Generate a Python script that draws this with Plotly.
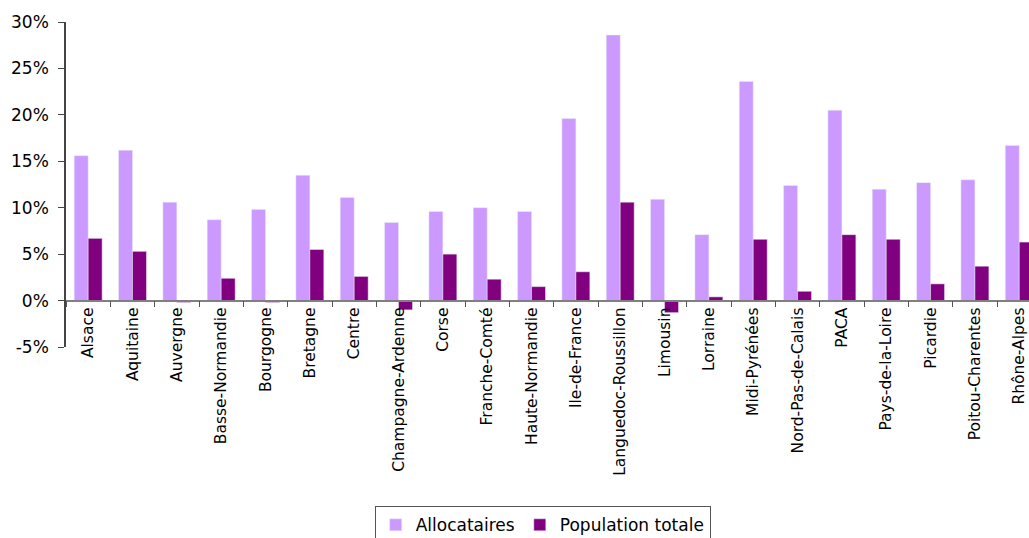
import plotly.graph_objects as go

regions = ["Alsace", "Aquitaine", "Auvergne", "Basse-Normandie", "Bourgogne", "Bretagne",
           "Centre", "Champagne-Ardenne", "Corse", "Franche-Comté", "Haute-Normandie",
           "Ile-de-France", "Languedoc-Roussillon", "Limousin", "Lorraine", "Midi-Pyrénées",
           "Nord-Pas-de-Calais", "PACA", "Pays-de-la-Loire", "Picardie", "Poitou-Charentes",
           "Rhône-Alpes"]
allocataires = [15.6, 16.2, 10.6, 8.7, 9.8, 13.5, 11.1, 8.4, 9.6, 10.0, 9.6,
                19.6, 28.6, 10.9, 7.1, 23.6, 12.4, 20.5, 12.0, 12.7, 13.0, 16.7]
population = [6.7, 5.3, -0.2, 2.4, -0.2, 5.5, 2.6, -1.0, 5.0, 2.3, 1.5,
              3.1, 10.6, -1.3, 0.4, 6.6, 1.0, 7.1, 6.6, 1.8, 3.7, 6.3]
y_ticks = [-5, 0, 5, 10, 15, 20, 25, 30]
y_tick_text = [f"{v}%" for v in y_ticks]

FONT = "Comic Sans MS, DejaVu Sans, sans-serif"

fig = go.Figure()
fig.add_trace(go.Bar(x=regions, y=allocataires, name="Allocataires", marker_color="#CC99FF"))
fig.add_trace(go.Bar(x=regions, y=population, name="Population totale", marker_color="#800080"))

fig.update_layout(
    width=1029, height=538,
    margin=dict(l=66, r=0, t=22, b=191, autoexpand=False),
    plot_bgcolor="white", paper_bgcolor="white",
    barmode="group", bargap=0.37, bargroupgap=0,
    font=dict(family=FONT, color="black", size=16),
    showlegend=True,
    legend=dict(orientation="h", x=0.495, xanchor="center", y=-0.49, yanchor="top",
                bordercolor="#555555", borderwidth=1, font=dict(size=17),
                itemwidth=30, tracegroupgap=0),
)
fig.update_xaxes(
    type="category", range=[-0.5, 21.22], anchor="free", position=5/35,
    showline=True, linecolor="#808080", linewidth=1.5,
    ticks="outside", tickson="boundaries", ticklen=6, tickcolor="#555555",
    tickangle=-90, tickfont=dict(size=15.5), showgrid=False, automargin=False,
)
fig.update_yaxes(
    range=[-5, 30], tickvals=y_ticks, ticktext=y_tick_text,
    showline=True, linecolor="#444444", linewidth=1.5,
    ticks="outside", ticklen=6, tickcolor="#444444", ticklabelstandoff=6,
    showgrid=False, zeroline=False, tickfont=dict(size=17), automargin=False,
)
fig.write_html(
    "out.html",
    config={"displayModeBar": False},
    post_script="document.body.style.margin='0';document.body.style.overflow='hidden';",
)
